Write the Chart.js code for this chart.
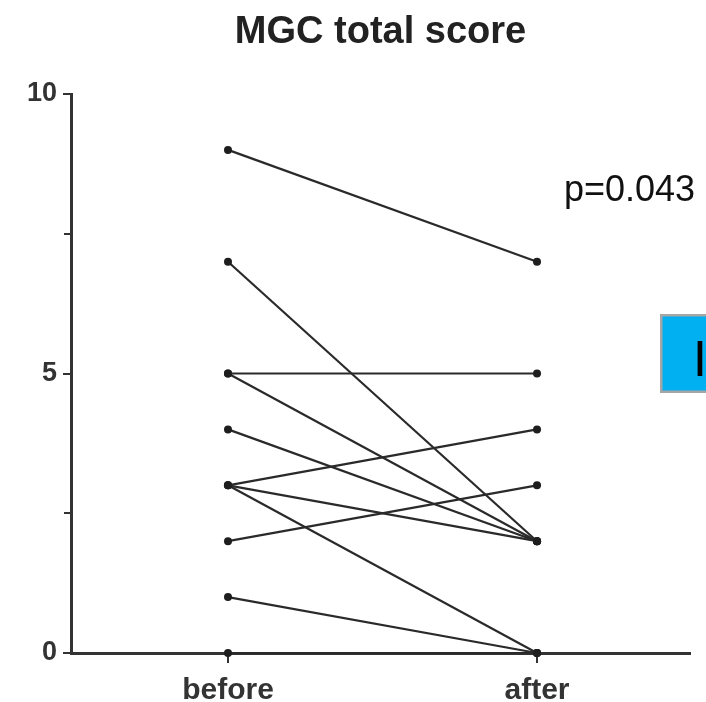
<!DOCTYPE html>
<html><head><meta charset="utf-8">
<script src="https://cdn.jsdelivr.net/npm/chart.js@4/dist/chart.umd.min.js"></script>
<style>html,body{margin:0;padding:0;background:#fff;}#wrap{width:706px;height:702px;position:relative;}</style>
</head><body><div id="wrap"><canvas id="c" width="706" height="702"></canvas></div>
<script>
const categories = ['before', 'after'];
const beforeScores = [9, 7, 5, 5, 4, 3, 3, 3, 2, 1, 0];
const afterScores  = [7, 2, 5, 2, 2, 4, 2, 0, 3, 0, 0];
const yTickValues = [0, 5, 10];
const yMinorTicks = [2.5, 7.5];
const titleText = 'MGC total score';
const pText = 'p=0.043';
const boxText = 'I';

const FONT = '"Liberation Sans", Arial, sans-serif';

const datasets = beforeScores.map((b, i) => ({
  data: [{x: 0, y: b}, {x: 1, y: afterScores[i]}],
  borderColor: '#2a2a2a',
  borderWidth: 2.2,
  pointRadius: 4,
  pointBackgroundColor: '#1e1e1e',
  pointBorderWidth: 0,
  tension: 0,
  clip: false
}));

const extras = {
  id: 'extras',
  afterDraw(chart) {
    const ctx = chart.ctx;
    const ys = chart.scales.y;
    ctx.save();
    ctx.strokeStyle = '#333';
    ctx.lineWidth = 2;
    yMinorTicks.forEach(v => {
      const py = Math.round(ys.getPixelForValue(v));
      ctx.beginPath();
      ctx.moveTo(ys.right - 7, py);
      ctx.lineTo(ys.right, py);
      ctx.stroke();
    });
    ctx.fillStyle = '#111';
    ctx.font = '36px ' + FONT;
    ctx.textAlign = 'left';
    ctx.textBaseline = 'alphabetic';
    ctx.fillText(pText, 564, 201);
    ctx.fillStyle = '#00b0f0';
    ctx.fillRect(660, 314, 60, 79);
    ctx.strokeStyle = '#a6a6a6';
    ctx.lineWidth = 2.5;
    ctx.strokeRect(661.25, 315.25, 60, 76.5);
    ctx.fillStyle = '#000';
    ctx.font = '50px ' + FONT;
    ctx.fillText(boxText, 693, 376);
    ctx.restore();
  }
};

new Chart(document.getElementById('c'), {
  type: 'line',
  data: { datasets },
  plugins: [extras],
  options: {
    responsive: false,
    animation: false,
    devicePixelRatio: 1,
    layout: { padding: { left: 0, right: 16, top: 0, bottom: 0 } },
    plugins: {
      legend: { display: false },
      tooltip: { enabled: false },
      title: {
        display: true,
        text: titleText,
        fullSize: false,
        color: '#222',
        font: { family: FONT, size: 38, weight: 'bold' },
        padding: { top: 10, bottom: 38.4 }
      }
    },
    scales: {
      x: {
        type: 'linear',
        position: 'bottom',
        min: -0.508,
        max: 1.495,
        afterBuildTicks: s => { s.ticks = categories.map((c, i) => ({ value: i })); },
        afterFit: s => { s.height = 49; },
        grid: { drawOnChartArea: false, drawTicks: true, tickLength: 10, tickColor: '#333', lineWidth: 2 },
        border: { display: true, color: '#333', width: 3 },
        ticks: {
          autoSkip: false, maxRotation: 0, padding: 10, color: '#333',
          font: { family: FONT, size: 30, weight: 'bold' },
          callback: v => categories[v]
        }
      },
      y: {
        type: 'linear',
        min: 0,
        max: 10,
        afterBuildTicks: s => { s.ticks = yTickValues.map(v => ({ value: v })); },
        afterFit: s => { s.width = 71; },
        grid: { drawOnChartArea: false, drawTicks: true, tickLength: 8, tickColor: '#333', lineWidth: 2 },
        border: { display: true, color: '#333', width: 3 },
        ticks: {
          padding: 6, color: '#333',
          font: { family: FONT, size: 27, weight: 'bold' }
        }
      }
    }
  }
});
</script></body></html>
